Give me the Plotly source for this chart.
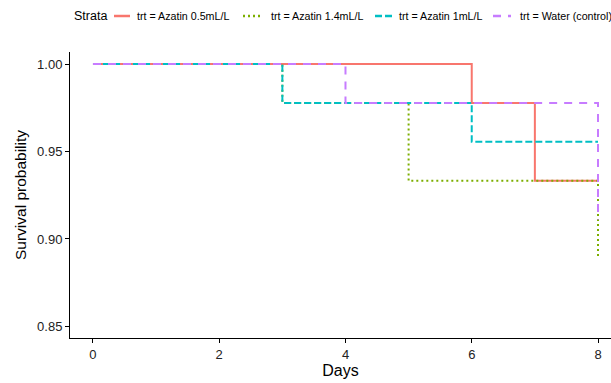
import plotly.graph_objects as go

labels = ["trt = Azatin 0.5mL/L", "trt = Azatin 1.4mL/L", "trt = Azatin 1mL/L", "trt = Water (control)"]
t_a05 = [0, 6, 7, 8]
s_a05 = [1.0, 0.9778, 0.9333, 0.9333]
t_a14 = [0, 3, 5, 8]
s_a14 = [1.0, 0.9778, 0.9333, 0.8889]
t_a1 = [0, 3, 6, 8]
s_a1 = [1.0, 0.9778, 0.9556, 0.9556]
t_w = [0, 4, 8]
s_w = [1.0, 0.9778, 0.9111]

colors = ["#F8766D", "#7CAE00", "#00BFC4", "#C77CFF"]
dashes = ["solid", "2px,3px", "7px,3px", "8px,7px"]

W, H = 611, 383
L, R, T, B = 70, 0, 52, 45
pw, ph = W - L - R, H - T - B

def px_x(p):
    return (p - L) / pw

def px_y(p):
    return (H - B - p) / ph

fig = go.Figure()
for lab, t, s, c, d in zip(labels, [t_a05, t_a14, t_a1, t_w], [s_a05, s_a14, s_a1, s_w], colors, dashes):
    fig.add_trace(go.Scatter(x=t, y=s, mode="lines", name=lab, showlegend=False,
                             line=dict(color=c, width=2, dash=d, shape="hv")))

# custom legend (ggplot style, top)
leg_y = 16
key_x = [(114, 130), (243, 263), (375, 392), (493, 511)]
text_x = [135, 269, 397, 518]
fig.add_annotation(x=px_x(72), y=px_y(leg_y), xref="paper", yref="paper", text="Strata",
                   showarrow=False, xanchor="left", yanchor="middle", font=dict(size=12.5))
for (k0, k1), tx, lab, c, d in zip(key_x, text_x, labels, colors, dashes):
    fig.add_shape(type="line", xref="paper", yref="paper", x0=px_x(k0), x1=px_x(k1),
                  y0=px_y(leg_y), y1=px_y(leg_y), line=dict(color=c, width=2.5, dash=d))
    fig.add_annotation(x=px_x(tx), y=px_y(leg_y), xref="paper", yref="paper", text=lab,
                       showarrow=False, xanchor="left", yanchor="middle", font=dict(size=10.7))

fig.update_layout(
    width=W, height=H,
    margin=dict(l=L, r=R, t=T, b=B),
    plot_bgcolor="white", paper_bgcolor="white",
    font=dict(family="Liberation Sans, Arial, sans-serif", color="black"),
    showlegend=False,
    xaxis=dict(range=[-0.364, 8.206], tickvals=[0, 2, 4, 6, 8], showgrid=False, zeroline=False,
               showline=True, linecolor="black", linewidth=1, ticks="outside", ticklen=4,
               tickcolor="black", tickfont=dict(size=13, color="#222"),
               title=dict(text="Days", font=dict(size=16), standoff=4)),
    yaxis=dict(range=[0.8434, 1.0069], tickvals=[0.85, 0.90, 0.95, 1.00], tickformat=".2f",
               showgrid=False, zeroline=False, showline=True, linecolor="black", linewidth=1,
               ticks="outside", ticklen=4, tickcolor="black", tickfont=dict(size=13, color="#222"),
               title=dict(text="Survival probability", font=dict(size=15.5), standoff=6)),
)
fig.write_html("out.html")
